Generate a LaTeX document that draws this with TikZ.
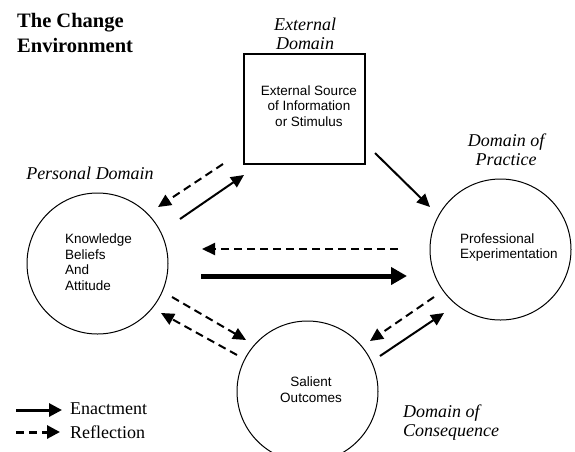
\documentclass[tikz,border=0pt]{standalone}
\usepackage{fontspec}
\setmainfont{Liberation Serif}
\setsansfont{Liberation Sans}
\usetikzlibrary{arrows.meta}
\begin{document}
\begin{tikzpicture}[x=1pt,y=-1pt,
 dom/.style={font=\fontsize{18}{19}\selectfont\itshape, inner sep=0pt},
 inner/.style={font=\sffamily\fontsize{13.5}{15.5}\selectfont, inner sep=0pt},
 circ/.style={draw, circle, line width=1pt, minimum size=141pt, inner sep=0pt},
 enact/.style={line width=2pt, -{Triangle[length=13pt,width=12pt]}},
 reflect/.style={line width=2pt, dash pattern=on 8pt off 5pt, -{Triangle[length=13pt,width=12pt]}},
 bigarrow/.style={line width=5pt, -{Triangle[length=16pt,width=17pt]}}]
\useasboundingbox (0,0) rectangle (575,451);
\clip (0,0) rectangle (575,451);
% title
\node[anchor=west, font=\bfseries\fontsize{20.5}{25}\selectfont, align=left, inner sep=0pt] (title) at (17,32.5) {The Change\\Environment};
% main shapes
\node[draw, line width=1.2pt, minimum width=121pt, minimum height=110pt] (box) at (304.5,109) {};
\node[circ] (L) at (97.5,263.5) {};
\node[circ] (R) at (500.5,249.5) {};
\node[circ] (B) at (307.5,391.5) {};
% inner texts
\node[inner, align=center] (boxtext) at (309,106) {External Source\\of Information\\or Stimulus};
\node[inner, align=left, anchor=west] (Ltext) at (65,262) {Knowledge\\Beliefs\\And\\Attitude};
\node[inner, align=left, anchor=west] (Rtext) at (460,247.5) {Professional\\Experimentation};
\node[inner, align=center] (Btext) at (311,389.5) {Salient\\Outcomes};
% domain labels
\node[dom, align=center] (dext) at (305,34) {External\\Domain};
\node[dom] (dpers) at (90,173) {Personal Domain};
\node[dom, align=center] (dprac) at (506,150) {Domain of\\Practice};
\node[dom, align=left, anchor=west] (dcons) at (403,423) {Domain of\\Consequence};
% arrow end points
\coordinate (a1s) at (223,164); \coordinate (a1e) at (158,207);
\coordinate (a2s) at (180,219); \coordinate (a2e) at (244,175);
\coordinate (a3s) at (375,153); \coordinate (a3e) at (430,207);
\coordinate (a4s) at (398,249); \coordinate (a4e) at (202,249);
\coordinate (a5s) at (201,276); \coordinate (a5e) at (407,276);
\coordinate (a6s) at (172,297); \coordinate (a6e) at (246,340);
\coordinate (a7s) at (237,355); \coordinate (a7e) at (161,313);
\coordinate (a8s) at (434,297); \coordinate (a8e) at (370,341);
\coordinate (a9s) at (380,356); \coordinate (a9e) at (444,313);
\draw[reflect] (a1s) -- (a1e);
\draw[enact] (a2s) -- (a2e);
\draw[enact] (a3s) -- (a3e);
\draw[reflect] (a4s) -- (a4e);
\draw[bigarrow] (a5s) -- (a5e);
\draw[reflect] (a6s) -- (a6e);
\draw[reflect] (a7s) -- (a7e);
\draw[reflect] (a8s) -- (a8e);
\draw[enact] (a9s) -- (a9e);
% legend
\coordinate (l1s) at (16,410); \coordinate (l1e) at (62,410);
\coordinate (l2s) at (16,432); \coordinate (l2e) at (60,432);
\draw[line width=3pt, -{Triangle[length=13pt,width=13pt]}] (l1s) -- (l1e);
\draw[line width=3pt, dash pattern=on 8pt off 5pt, -{Triangle[length=13pt,width=13pt]}] (l2s) -- (l2e);
\node[anchor=west, font=\fontsize{18}{18}\selectfont, inner sep=0pt] (lenact) at (70,409) {Enactment};
\node[anchor=west, font=\fontsize{18}{18}\selectfont, inner sep=0pt] (lrefl) at (70,432) {Reflection};
\end{tikzpicture}
\end{document}
